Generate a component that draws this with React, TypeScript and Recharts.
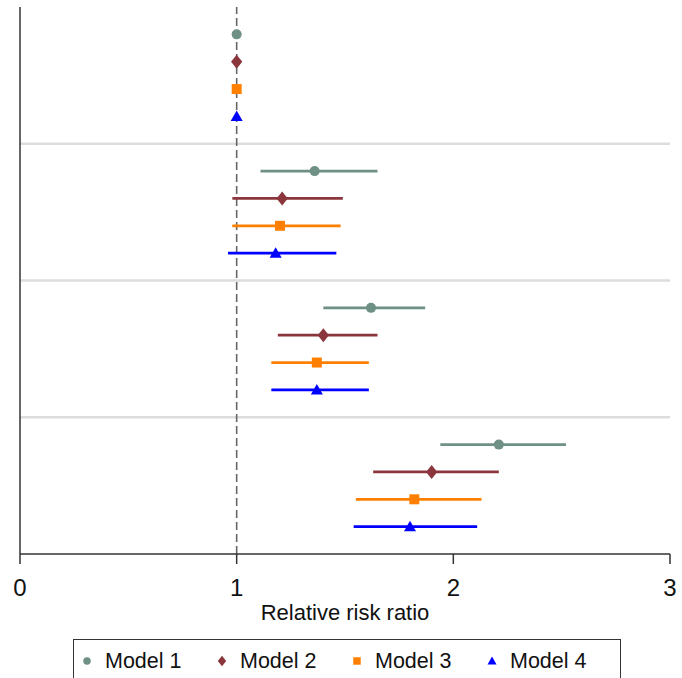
import React from 'react'
import { ScatterChart, Scatter, XAxis, YAxis, ErrorBar, ReferenceLine } from 'recharts'

// relative risk ratios, one entry per group (top to bottom)
const models = ['Model 1', 'Model 2', 'Model 3', 'Model 4']
const groupStart = [0, 5, 10, 15]
const separators = [5, 10, 15]
const xTicks = [0, 1, 2, 3]

const model1Est = [1, 1.36, 1.62, 2.21]
const model1Lo = [1, 1.11, 1.4, 1.94]
const model1Hi = [1, 1.65, 1.87, 2.52]

const model2Est = [1, 1.21, 1.4, 1.9]
const model2Lo = [1, 0.98, 1.19, 1.63]
const model2Hi = [1, 1.49, 1.65, 2.21]

const model3Est = [1, 1.2, 1.37, 1.82]
const model3Lo = [1, 0.98, 1.16, 1.55]
const model3Hi = [1, 1.48, 1.61, 2.13]

const model4Est = [1, 1.18, 1.37, 1.8]
const model4Lo = [1, 0.96, 1.16, 1.54]
const model4Hi = [1, 1.46, 1.61, 2.11]

const FONT = '"Liberation Sans", Arial, sans-serif'

const series = [
  { name: models[0], est: model1Est, lo: model1Lo, hi: model1Hi, color: '#6f9084', shape: 'circle' },
  { name: models[1], est: model2Est, lo: model2Lo, hi: model2Hi, color: '#8b353c', shape: 'diamond' },
  { name: models[2], est: model3Est, lo: model3Lo, hi: model3Hi, color: '#ff8000', shape: 'square' },
  { name: models[3], est: model4Est, lo: model4Lo, hi: model4Hi, color: '#0000ff', shape: 'triangle' },
]

const buildRows = (s: any, idx: number) =>
  s.est.map((v: number, g: number) => ({
    x: v,
    y: groupStart[g] + idx + 1,
    err: [v - s.lo[g], s.hi[g] - v],
  }))

function Marker({ kind, color, cx, cy, s = 1 }: any) {
  if (kind === 'circle') return <circle cx={cx} cy={cy} r={5 * s} fill={color} />
  if (kind === 'diamond') {
    const r = 7 * s
    return <polygon points={`${cx},${cy - r} ${cx + r * 0.8},${cy} ${cx},${cy + r} ${cx - r * 0.8},${cy}`} fill={color} />
  }
  if (kind === 'square') {
    const h = 5 * s
    return <rect x={cx - h} y={cy - h} width={h * 2} height={h * 2} fill={color} />
  }
  const r = 6 * s
  return <polygon points={`${cx},${cy - r} ${cx + r},${cy + r * 0.75} ${cx - r},${cy + r * 0.75}`} fill={color} />
}

export default function App() {
  return (
    <div style={{ position: 'absolute', left: 0, top: 0, width: 682, height: 678, overflow: 'hidden', background: '#fff', fontFamily: FONT }}>
      <ScatterChart width={682} height={678} margin={{ top: 7, right: 12, left: 20, bottom: 74 }}>
        <XAxis
          type="number"
          dataKey="x"
          domain={[0, 3]}
          ticks={xTicks}
          allowDataOverflow
          height={50}
          tickSize={10}
          tickMargin={15}
          stroke="#333"
          strokeWidth={1.5}
          tick={{ fill: '#111', fontSize: 24, fontFamily: FONT }}
          label={{ value: 'Relative risk ratio', position: 'bottom', offset: 0, fontSize: 22, fill: '#111', fontFamily: FONT }}
        />
        <YAxis type="number" dataKey="y" domain={[0, 20]} reversed hide />
        {separators.map((y) => (
          <ReferenceLine key={y} y={y} stroke="#dddddd" strokeWidth={2.5} />
        ))}
        <ReferenceLine x={0} stroke="#333" strokeWidth={1.5} />
        <ReferenceLine x={1} stroke="#666" strokeWidth={1.6} strokeDasharray="8 4" />
        {series.map((s, i) => (
          <Scatter
            key={s.name}
            name={s.name}
            data={buildRows(s, i)}
            fill={s.color}
            isAnimationActive={false}
            shape={(p: any) => <Marker kind={s.shape} color={s.color} cx={p.cx} cy={p.cy} />}
          >
            <ErrorBar dataKey="err" direction="x" width={0} stroke={s.color} strokeWidth={2.8} />
          </Scatter>
        ))}
      </ScatterChart>
      <div
        style={{
          position: 'absolute',
          left: 73,
          top: 639,
          width: 548,
          height: 60,
          border: '1.5px solid #333',
          boxSizing: 'border-box',
          display: 'flex',
          alignItems: 'flex-start',
          paddingLeft: 6,
        }}
      >
        {series.map((s) => (
          <div key={s.name} style={{ width: 141, height: 42, display: 'flex', alignItems: 'center' }}>
            <svg width={14} height={14} style={{ marginRight: 11 }}>
              <Marker kind={s.shape} color={s.color} cx={7} cy={7} s={0.75} />
            </svg>
            <span style={{ fontSize: 21.5, color: '#111' }}>{s.name}</span>
          </div>
        ))}
      </div>
    </div>
  )
}
